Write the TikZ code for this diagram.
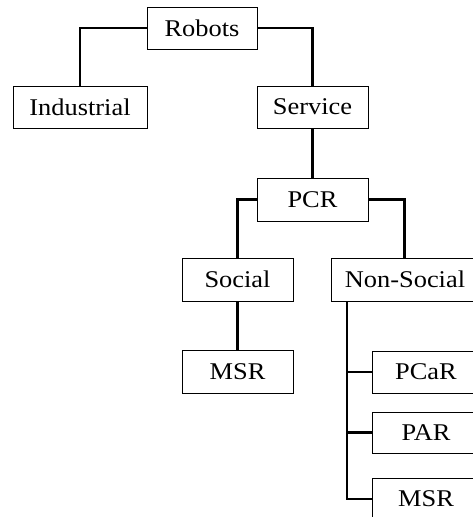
\documentclass[tikz,border=0pt]{standalone}
\usepackage{fontspec}
\setmainfont{Liberation Serif}
\newcommand{\wide}[1]{\scalebox{1.1}[1]{#1}}
\begin{document}
\begin{tikzpicture}[x=1pt,y=-1pt,
  box/.style={draw=black,line width=0.9pt,fill=white,inner sep=0pt,font=\fontsize{24}{24}\selectfont},
  link/.style={line width=2.9pt,line cap=rect}]
\useasboundingbox (0,0) rectangle (473,517);
\clip (0,0) rectangle (473,517);
\node[box,minimum width=110pt,minimum height=42pt] (robots) at (202,28) {\wide{Robots}};
\node[box,minimum width=134pt,minimum height=42pt] (ind) at (80,107) {\wide{Industrial}};
\node[box,minimum width=111pt,minimum height=42pt] (serv) at (312.5,107) {\wide{Service}};
\node[box,minimum width=111pt,minimum height=43pt] (pcr) at (312.5,199.5) {\wide{PCR}};
\node[box,minimum width=111pt,minimum height=43pt] (soc) at (237.5,279.5) {\wide{Social}};
\node[box,minimum width=148pt,minimum height=43pt] (non) at (405,279.5) {\wide{Non-Social}};
\node[box,minimum width=111pt,minimum height=43pt] (msr1) at (237.5,371.5) {\wide{MSR}};
\node[box,minimum width=108pt,minimum height=42pt] (pcar) at (426,372) {\wide{PCaR}};
\node[box,minimum width=108pt,minimum height=41pt] (par) at (426,432.5) {\wide{PAR}};
\node[box,minimum width=108pt,minimum height=42pt] (msr2) at (426,499) {\wide{MSR}};
\draw[link] (robots.west) -| (ind.north);
\draw[link] (robots.east) -| (serv.north);
\draw[link] (serv.south) -- (pcr.north);
\draw[link] (pcr.west) -| (soc.north);
\draw[link] (pcr.east) -| ([xshift=-0.5pt]non.north);
\draw[link] (soc.south) -- (msr1.north);
\coordinate (nv) at (347,0);
\draw[link] (nv |- non.south) |- (msr2.west);
\draw[link] (nv |- pcar.west) -- (pcar.west);
\draw[link] (nv |- par.west) -- (par.west);
% redraw boxes on top of the connector ends
\node[box,minimum width=110pt,minimum height=42pt] at (robots) {\wide{Robots}};
\node[box,minimum width=134pt,minimum height=42pt] at (ind) {\wide{Industrial}};
\node[box,minimum width=111pt,minimum height=42pt] at (serv) {\wide{Service}};
\node[box,minimum width=111pt,minimum height=43pt] at (pcr) {\wide{PCR}};
\node[box,minimum width=111pt,minimum height=43pt] at (soc) {\wide{Social}};
\node[box,minimum width=148pt,minimum height=43pt] at (non) {\wide{Non-Social}};
\node[box,minimum width=111pt,minimum height=43pt] at (msr1) {\wide{MSR}};
\node[box,minimum width=108pt,minimum height=42pt] at (pcar) {\wide{PCaR}};
\node[box,minimum width=108pt,minimum height=41pt] at (par) {\wide{PAR}};
\node[box,minimum width=108pt,minimum height=42pt] at (msr2) {\wide{MSR}};
\end{tikzpicture}
\end{document}
